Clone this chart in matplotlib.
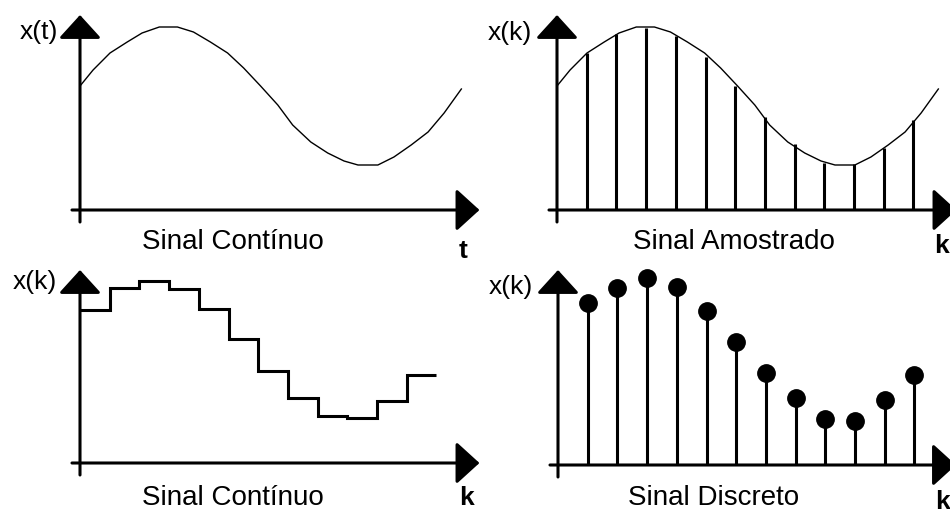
import numpy as np
import matplotlib.pyplot as plt

plt.rcParams['font.family'] = ['Liberation Sans', 'DejaVu Sans']

# continuous signal (k units / amplitude units)
curve_k = [0.0, 0.44, 1.01, 1.59, 2.09, 2.67, 3.28, 3.82, 4.39, 4.97, 5.51, 6.08,
           6.66, 7.16, 7.77, 8.34, 8.89, 9.36, 10.03, 10.57, 11.15, 11.72, 12.26, 12.84]
curve_x = [6.2, 7.0, 7.85, 8.4, 8.85, 9.15, 9.15, 8.9, 8.4, 7.85, 7.1, 6.2,
           5.25, 4.25, 3.4, 2.85, 2.45, 2.25, 2.25, 2.65, 3.25, 3.9, 4.85, 6.05]

# sampled signal (stems on the curve)
sample_k = np.arange(1, 13)
sample_x = [7.85, 8.8, 9.1, 8.7, 7.65, 6.2, 4.65, 3.3, 2.35, 2.3, 3.1, 4.5]

# zero-order hold
hold_edges = np.arange(0, 13)
hold_x = [7.65, 8.75, 9.1, 8.7, 7.7, 6.2, 4.6, 3.25, 2.35, 2.25, 3.1, 4.4]

# discrete signal
disc_k = np.arange(1, 13)
disc_x = [8.1, 8.85, 9.35, 8.9, 7.7, 6.15, 4.6, 3.35, 2.3, 2.2, 3.25, 4.5]

titles = ['Sinal Contínuo', 'Sinal Amostrado', 'Sinal Contínuo', 'Sinal Discreto']
ylabels = ['x(t)', 'x(k)', 'x(k)', 'x(k)']
xlabels = ['t', 'k', 'k', 'k']

W, H = 950, 513
PX_K = 29.7   # pixels per sample step
PX_V = 20.0   # pixels per amplitude unit
origins = [(80, 210), (557, 210), (80, 463), (558, 465)]
x_tips = [13.45, 13.45, 13.45, 13.4]
y_tips = [9.75, 9.75, 9.65, 9.75]
title_pos = [(5.15, -1.6), (5.96, -1.6), (5.15, -1.75), (5.25, -1.65)]
xlab_pos = [(12.9, -2.05), (12.96, -1.8), (13.0, -1.75), (12.93, -1.85)]
ylab_pos = [(-0.74, 8.9), (-0.84, 8.85), (-0.77, 9.05), (-0.84, 8.9)]

fig = plt.figure(figsize=(W / 100, H / 100), dpi=100)
fig.patch.set_facecolor('white')

axes = []
for ox, oy in origins:
    left, right, top, bottom = ox - 80, ox + 400, oy - 205, oy + 48
    ax = fig.add_axes([left / W, 1 - bottom / H, (right - left) / W, (bottom - top) / H])
    ax.set_xlim(-80 / PX_K, 400 / PX_K)
    ax.set_ylim(-48 / PX_V, 205 / PX_V)
    ax.axis('off')
    axes.append(ax)

arrow = dict(arrowstyle='-|>,head_length=14.5,head_width=13.2', lw=2.2, color='black',
             shrinkA=0, shrinkB=0, mutation_scale=1)

for i, ax in enumerate(axes):
    ax.annotate('', xy=(x_tips[i], 0), xytext=(-0.27, 0), arrowprops=arrow)
    ax.annotate('', xy=(0, y_tips[i]), xytext=(0, -0.6), arrowprops=arrow)
    ax.text(*title_pos[i], titles[i], ha='center', va='center', fontsize=20)
    ax.text(*xlab_pos[i], xlabels[i], ha='center', va='center', fontsize=19, fontweight='bold')
    ax.text(*ylab_pos[i], ylabels[i], ha='right', va='center', fontsize=19)

# 1. continuous
axes[0].plot(curve_k, curve_x, color='black', lw=1.0)

# 2. sampled
axes[1].plot(curve_k, curve_x, color='black', lw=1.0)
ml, sl, bl = axes[1].stem(sample_k, sample_x, linefmt='k-', markerfmt=' ', basefmt=' ')
sl.set_linewidth(2.2)

# 3. zero-order hold
axes[2].stairs(hold_x, hold_edges, baseline=None, color='black', lw=2.2)

# 4. discrete
ml, sl, bl = axes[3].stem(disc_k, disc_x, linefmt='k-', markerfmt='ko', basefmt=' ')
sl.set_linewidth(2.2)
ml.set_markersize(12.5)

fig.savefig('out.png', dpi=100, facecolor='white')
